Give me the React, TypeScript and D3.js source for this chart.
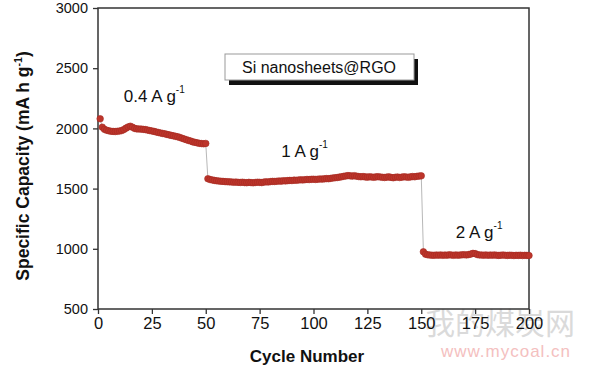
import * as d3 from 'd3';

import React, { useEffect, useRef } from 'react';

// Specific capacity (mA h g-1) read per cycle from the plot
const capacity04: number[] = [
  2080, 2010, 1992, 1985, 1980, 1976, 1975, 1974, 1976, 1978,
  1982, 1990, 2002, 2012, 2018, 2010, 2000, 1996, 1995, 1994,
  1992, 1990, 1986, 1982, 1979, 1975, 1970, 1966, 1962, 1958,
  1955, 1950, 1946, 1942, 1938, 1934, 1930, 1925, 1918, 1912,
  1906, 1900, 1895, 1888, 1884, 1880, 1876, 1874, 1872, 1875,
];

const capacity1: number[] = [
  1582, 1575, 1572, 1568, 1565, 1563, 1561, 1560, 1558, 1557,
  1556, 1555, 1553, 1554, 1552, 1551, 1553, 1550, 1549, 1552,
  1550, 1548, 1551, 1553, 1552, 1550, 1554, 1556, 1555, 1558,
  1560, 1559, 1561, 1563, 1562, 1565, 1564, 1566, 1568, 1567,
  1570, 1569, 1571, 1573, 1572, 1574, 1576, 1575, 1577, 1578,
  1576, 1578, 1580, 1579, 1581, 1583, 1582, 1585, 1588, 1590,
  1592, 1595, 1598, 1602, 1605, 1608, 1606, 1604, 1607, 1603,
  1600, 1598, 1600, 1597, 1595, 1598, 1596, 1594, 1597, 1599,
  1596, 1594, 1592, 1595, 1597, 1593, 1590, 1594, 1596, 1592,
  1595, 1598, 1596, 1594, 1597, 1600, 1598, 1602, 1604, 1606,
];

const capacity2: number[] = [
  975, 955, 950, 948, 947, 946, 948, 947, 949, 946,
  948, 947, 950, 948, 946, 949, 947, 948, 950, 951,
  949, 952, 956, 962, 960, 952, 949, 948, 947, 949,
  946, 948, 947, 949, 946, 945, 947, 948, 946, 945,
  947, 946, 944, 946, 945, 947, 944, 946, 945, 944,
];

const xTicks = [0, 25, 50, 75, 100, 125, 150, 175, 200];
const yTicks = [500, 1000, 1500, 2000, 2500, 3000];

const rates = [
  { label: '0.4 A g', cycle: 12, value: 2220 },
  { label: '1 A g', cycle: 85, value: 1760 },
  { label: '2 A g', cycle: 166, value: 1090 },
];

export default function App() {
  const ref = useRef<SVGSVGElement>(null);

  useEffect(() => {
    const svg = d3.select(ref.current);
    svg.selectAll('*').remove();

    const data = [...capacity04, ...capacity1, ...capacity2].map((v, i) => ({ cycle: i + 1, value: v }));

    const x = d3.scaleLinear().domain([0, 200]).range([98, 529]);
    const y = d3.scaleLinear().domain([500, 3000]).range([309, 8]);

    const font = 'Arial, "Liberation Sans", sans-serif';

    // watermark
    svg.append('text')
      .attr('x', 500).attr('y', 334)
      .attr('text-anchor', 'middle')
      .attr('font-family', '"Noto Sans CJK SC", sans-serif')
      .attr('font-size', 30)
      .attr('fill', '#dadada')
      .text('我的煤炭网');
    svg.append('text')
      .attr('x', 506).attr('y', 357)
      .attr('text-anchor', 'middle')
      .attr('font-family', font)
      .attr('font-size', 17)
      .attr('letter-spacing', 1)
      .attr('fill', '#f4c0c0')
      .text('www.mycoal.cn');

    // frame
    svg.append('rect')
      .attr('x', x(0)).attr('y', y(3000))
      .attr('width', x(200) - x(0)).attr('height', y(500) - y(3000))
      .attr('fill', 'none').attr('stroke', '#333').attr('stroke-width', 1.5);

    const xAxis = svg.append('g').attr('transform', `translate(0, ${y(500)})`);
    xAxis.call(d3.axisBottom(x).tickValues(d3.range(0, 201, 12.5)).tickSize(3).tickFormat(() => ''));
    xAxis.call(d3.axisBottom(x).tickValues(xTicks).tickSize(5).tickPadding(3).tickFormat(d3.format('d')));
    xAxis.selectAll('.domain').remove();
    xAxis.selectAll('line').attr('stroke', '#333').attr('stroke-width', 1.3);
    xAxis.selectAll('text').attr('font-family', font).attr('font-size', 16.5).attr('fill', '#111');

    const yAxis = svg.append('g').attr('transform', `translate(${x(0)}, 0)`);
    yAxis.call(d3.axisLeft(y).tickValues(d3.range(500, 3001, 250)).tickSize(3).tickFormat(() => ''));
    yAxis.call(d3.axisLeft(y).tickValues(yTicks).tickSize(5).tickPadding(5).tickFormat(d3.format('d')));
    yAxis.selectAll('.domain').remove();
    yAxis.selectAll('line').attr('stroke', '#333').attr('stroke-width', 1.3);
    yAxis.selectAll('text').attr('font-family', font).attr('font-size', 14.5).attr('fill', '#111');

    // axis titles
    svg.append('text')
      .attr('transform', `translate(29, 166) rotate(-90)`)
      .attr('text-anchor', 'middle')
      .attr('font-family', font).attr('font-weight', 'bold').attr('font-size', 17.5)
      .attr('fill', '#111')
      .call((t) => {
        t.append('tspan').text('Specific Capacity (mA h g');
        t.append('tspan').attr('dy', -7).attr('font-size', 10.5).text('-1');
        t.append('tspan').attr('dy', 7).text(')');
      });

    svg.append('text')
      .attr('x', 307).attr('y', 362)
      .attr('text-anchor', 'middle')
      .attr('font-family', font).attr('font-weight', 'bold').attr('font-size', 17)
      .attr('fill', '#111')
      .text('Cycle Number');

    // connecting line + markers
    const line = d3.line<{ cycle: number; value: number }>()
      .x((d) => x(d.cycle))
      .y((d) => y(d.value));

    svg.append('path')
      .datum(data)
      .attr('d', line)
      .attr('fill', 'none')
      .attr('stroke', '#b8b8b8')
      .attr('stroke-width', 1);

    svg.append('g')
      .selectAll('circle')
      .data(data)
      .join('circle')
      .attr('cx', (d) => x(d.cycle))
      .attr('cy', (d) => y(d.value))
      .attr('r', 3.3)
      .attr('fill', '#bd352b')
      .attr('stroke', '#a52a22')
      .attr('stroke-width', 0.6);

    // rate labels
    rates.forEach((r) => {
      const t = svg.append('text')
        .attr('x', x(r.cycle)).attr('y', y(r.value))
        .attr('font-family', font).attr('font-size', 17).attr('fill', '#111');
      t.append('tspan').text(r.label);
      t.append('tspan').attr('dy', -9).attr('font-size', 10).text('-1');
    });

    // legend box with shadow
    svg.append('rect')
      .attr('x', 229).attr('y', 59).attr('width', 189).attr('height', 26)
      .attr('fill', '#111');
    svg.append('rect')
      .attr('x', 225).attr('y', 54).attr('width', 189).attr('height', 26)
      .attr('fill', '#fff').attr('stroke', '#999').attr('stroke-width', 1);
    svg.append('text')
      .attr('x', 319).attr('y', 73)
      .attr('text-anchor', 'middle')
      .attr('font-family', font).attr('font-size', 16).attr('fill', '#111')
      .text('Si nanosheets@RGO');
  }, []);

  return (
    <svg
      ref={ref}
      width={600}
      height={371}
      style={{ display: 'block', position: 'absolute', left: 0, top: 0 }}
    ></svg>
  );
}
